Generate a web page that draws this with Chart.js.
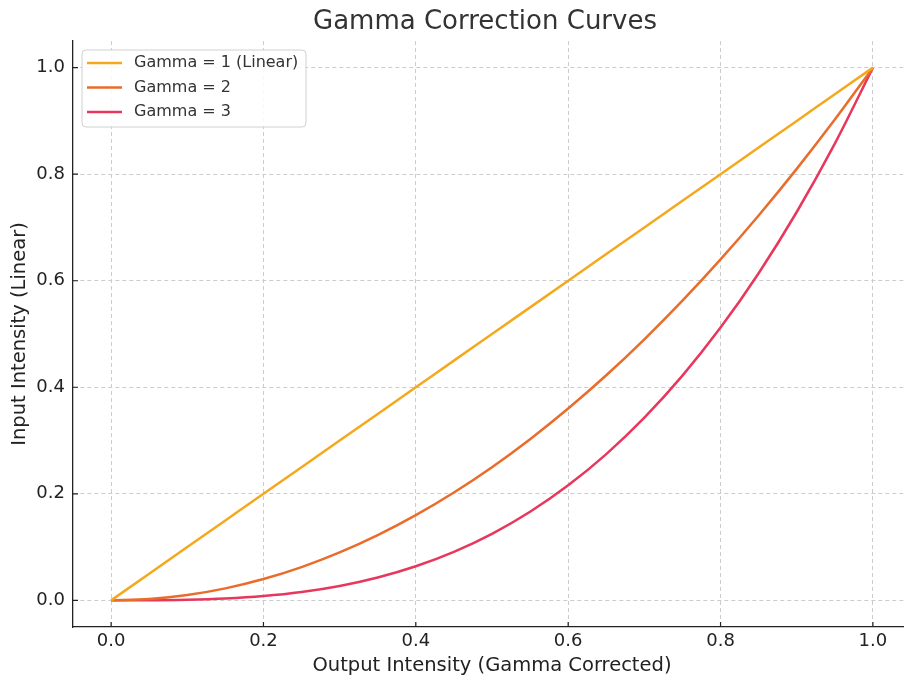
<!DOCTYPE html>
<html>
<head>
<meta charset="utf-8">
<script src="https://cdn.jsdelivr.net/npm/chart.js@4"></script>
<style>
    html, body { margin: 0; padding: 0; background: #fff; overflow: hidden; }
    #wrap { width: 912px; height: 679px; }
</style>
</head>
<body>
<div id="wrap"><canvas id="myChart"></canvas></div>
<script>
/**
 * Data
 */

var inputValues = [0, 0.05, 0.1, 0.15, 0.2, 0.25, 0.3, 0.35, 0.4, 0.45, 0.5, 0.55, 0.6, 0.65, 0.7, 0.75, 0.8, 0.85, 0.9, 0.95, 1];
var gammaOne = [0, 0.05, 0.1, 0.15, 0.2, 0.25, 0.3, 0.35, 0.4, 0.45, 0.5, 0.55, 0.6, 0.65, 0.7, 0.75, 0.8, 0.85, 0.9, 0.95, 1];
var gammaTwo = [0, 0.0025, 0.01, 0.0225, 0.04, 0.0625, 0.09, 0.1225, 0.16, 0.2025, 0.25, 0.3025, 0.36, 0.4225, 0.49, 0.5625, 0.64, 0.7225, 0.81, 0.9025, 1];
var gammaThree = [0, 0.0001, 0.001, 0.0034, 0.008, 0.0156, 0.027, 0.0429, 0.064, 0.0911, 0.125, 0.1664, 0.216, 0.2746, 0.343, 0.4219, 0.512, 0.6141, 0.729, 0.8574, 1];
var seriesNames = ['Gamma = 1 (Linear)', 'Gamma = 2', 'Gamma = 3'];
var tickValues = [0, 0.2, 0.4, 0.6, 0.8, 1.0];

var colors = ['#f5a81c', '#e96c2b', '#e8375c'];
var fontFamily = '"DejaVu Sans", sans-serif';
var axisColor = '#222222';

var toPoints = function(ys) {
    var points = [];
    for (var i = 0; i < inputValues.length; i++) {
        points.push({ x: inputValues[i], y: ys[i] });
    }
    return points;
};

var allSeries = [gammaOne, gammaTwo, gammaThree];
var datasets = [];
for (var i = 0; i < allSeries.length; i++) {
    datasets.push({
        label: seriesNames[i],
        data: toPoints(allSeries[i]),
        borderColor: colors[i],
        backgroundColor: colors[i],
        borderWidth: 2.5,
        pointRadius: 0,
        tension: 0.4,
        cubicInterpolationMode: 'monotone',
        fill: false
    });
}

/**
 * Title, inward tick marks and the legend box inside the plot
 */

var overlayPlugin = {
    id: 'overlay',
    afterDraw: function(chart) {
        var ctx = chart.ctx;
        var area = chart.chartArea;
        ctx.save();

        // title
        ctx.fillStyle = '#333333';
        ctx.font = '26px ' + fontFamily;
        ctx.textAlign = 'center';
        ctx.textBaseline = 'middle';
        ctx.fillText('Gamma Correction Curves', 485, 22);

        // tick marks pointing into the plot
        ctx.strokeStyle = axisColor;
        ctx.lineWidth = 1.2;
        for (var t = 0; t < tickValues.length; t++) {
            var px = chart.scales.x.getPixelForValue(tickValues[t]);
            var py = chart.scales.y.getPixelForValue(tickValues[t]);
            ctx.beginPath();
            ctx.moveTo(px, area.bottom);
            ctx.lineTo(px, area.bottom - 5);
            ctx.moveTo(area.left, py);
            ctx.lineTo(area.left + 5, py);
            ctx.stroke();
        }

        // legend
        var x = 82, y = 50, w = 224, h = 77, r = 4;
        ctx.beginPath();
        ctx.moveTo(x + r, y);
        ctx.arcTo(x + w, y, x + w, y + h, r);
        ctx.arcTo(x + w, y + h, x, y + h, r);
        ctx.arcTo(x, y + h, x, y, r);
        ctx.arcTo(x, y, x + w, y, r);
        ctx.closePath();
        ctx.fillStyle = 'rgba(255,255,255,0.85)';
        ctx.fill();
        ctx.strokeStyle = '#d0d0d0';
        ctx.lineWidth = 1;
        ctx.stroke();

        ctx.font = '16px ' + fontFamily;
        ctx.textAlign = 'left';
        var ds = chart.data.datasets;
        for (var k = 0; k < ds.length; k++) {
            var ly = 63 + k * 24.5;
            ctx.beginPath();
            ctx.moveTo(87, ly);
            ctx.lineTo(122, ly);
            ctx.strokeStyle = ds[k].borderColor;
            ctx.lineWidth = 2.5;
            ctx.stroke();
            ctx.fillStyle = '#333333';
            ctx.fillText(ds[k].label, 134, ly);
        }
        ctx.restore();
    }
};

var fixTicks = function(scale) {
    scale.ticks = tickValues.map(function(v) { return { value: v }; });
};

var ctx = document.getElementById('myChart').getContext('2d');
var chart = new Chart(ctx, {
    type: 'line',
    data: { datasets: datasets },
    plugins: [overlayPlugin],
    options: {
        responsive: true,
        maintainAspectRatio: false,
        animation: false,
        layout: { padding: { top: 41, right: 1, left: 0, bottom: 0 } },
        plugins: {
            legend: { display: false },
            title: { display: false },
            tooltip: { enabled: false }
        },
        scales: {
            x: {
                type: 'linear',
                min: -0.05,
                max: 1.05,
                afterBuildTicks: fixTicks,
                afterFit: function(scale) { scale.height = 52; },
                border: { display: true, color: axisColor, width: 1.3, dash: [4, 3] },
                grid: {
                    color: '#cccccc',
                    drawTicks: false,
                    lineWidth: 1
                },
                ticks: {
                    color: axisColor,
                    font: { family: fontFamily, size: 18 },
                    padding: 4,
                    maxRotation: 0,
                    callback: function(v) { return v.toFixed(1); }
                },
                title: {
                    display: true,
                    text: 'Output Intensity (Gamma Corrected)',
                    color: axisColor,
                    font: { family: fontFamily, size: 19.5 },
                    padding: { top: 0, bottom: 1 }
                }
            },
            y: {
                type: 'linear',
                min: -0.05,
                max: 1.05,
                afterBuildTicks: fixTicks,
                afterFit: function(scale) { scale.width = 73; },
                border: { display: true, color: axisColor, width: 1.3, dash: [4, 3] },
                grid: {
                    color: '#cccccc',
                    drawTicks: false,
                    lineWidth: 1
                },
                ticks: {
                    color: axisColor,
                    font: { family: fontFamily, size: 18 },
                    padding: 8,
                    callback: function(v) { return v.toFixed(1); }
                },
                title: {
                    display: true,
                    text: 'Input Intensity (Linear)',
                    color: axisColor,
                    font: { family: fontFamily, size: 19.5 },
                    padding: { top: 8, bottom: 0 }
                }
            }
        }
    }
});
</script>
</body>
</html>
